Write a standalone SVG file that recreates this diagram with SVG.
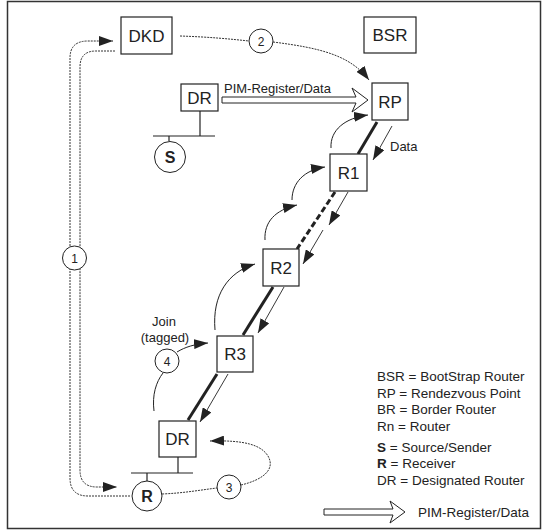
<svg xmlns="http://www.w3.org/2000/svg" width="543" height="530" viewBox="0 0 543 530">
<defs>
<style>
.box{fill:#fff;stroke:#222;stroke-width:1.2}
.lbl{font-family:"Liberation Sans",Arial,sans-serif;font-size:17px;fill:#222;text-anchor:middle}
.num{font-family:"Liberation Sans",Arial,sans-serif;font-size:12px;fill:#222;text-anchor:middle}
.txt{font-family:"Liberation Sans",Arial,sans-serif;font-size:13.5px;fill:#222}
.circ{fill:#fff;stroke:#222;stroke-width:1}
.dot{fill:none;stroke:#333;stroke-width:1;stroke-dasharray:2 1}
.thin{fill:none;stroke:#222;stroke-width:0.9}
.curve{fill:none;stroke:#222;stroke-width:1}
.thick{fill:none;stroke:#222;stroke-width:3}
.hollow{fill:#fff;stroke:#222;stroke-width:1}
.line{fill:none;stroke:#222;stroke-width:1.2}
</style>
<marker id="ah" viewBox="0 0 14 10" refX="14" refY="5" markerWidth="14" markerHeight="10" markerUnits="userSpaceOnUse" orient="auto">
<path d="M0,0 L14,5 L0,10 z" fill="#222"/>
</marker>
</defs>
<rect x="7.5" y="1.5" width="533" height="527" fill="#fff" stroke="#333" stroke-width="1.5"/>

<g id="connectors">
<!-- step 1 -->
<path class="dot" d="M130,496 L88,496 Q70,496 70,478 L70,58 Q70,41 88,41 L113,41" marker-end="url(#ah)"/>
<path class="dot" d="M115,51 L96,51 Q80,51 80,67 L80,470 Q80,487 97,487 L117,487" marker-end="url(#ah)"/>
<!-- step 2 -->
<path class="dot" d="M180,36 C210,37 230,39 249,41"/>
<path class="dot" d="M273,42 C320,48 350,55 369,80" marker-end="url(#ah)"/>
<!-- step 3 -->
<path class="dot" d="M162,494 C185,493 200,490 217,488"/>
<path class="dot" d="M241,485 C262,480 276,470 268,456 C261,445 245,440 210,441" marker-end="url(#ah)"/>
<!-- PIM register -->
<polygon class="hollow" points="222,97 356,97 352,88 368,100 352,112 356,103 222,103"/>
<!-- tree links -->
<line class="thick" x1="377" y1="122" x2="358" y2="154"/>
<line class="thick" x1="335" y1="192" x2="297" y2="249" stroke-dasharray="6 3"/>
<line class="thick" x1="273" y1="287" x2="243" y2="335"/>
<line class="thick" x1="217" y1="374" x2="188" y2="420"/>
<!-- data arrows -->
<line class="thin" x1="392" y1="126" x2="373" y2="160" marker-end="url(#ah)"/>
<line class="thin" x1="348" y1="192" x2="329" y2="225" marker-end="url(#ah)"/>
<line class="thin" x1="323" y1="230" x2="303" y2="264" marker-end="url(#ah)"/>
<line class="thin" x1="284" y1="287" x2="258" y2="333" marker-end="url(#ah)"/>
<line class="thin" x1="228" y1="374" x2="200" y2="422" marker-end="url(#ah)"/>
<!-- join curves -->
<path class="curve" d="M154,411 C152,395 156,382 163,373"/>
<path class="curve" d="M177,352 C185,347 195,344 208,343" marker-end="url(#ah)"/>
<path class="curve" d="M215,330 C212,295 228,272 255,264" marker-end="url(#ah)"/>
<path class="curve" d="M265,240 C264,222 275,210 297,205" marker-end="url(#ah)"/>
<path class="curve" d="M292,200 C292,183 304,170 325,167" marker-end="url(#ah)"/>
<path class="curve" d="M331,148 C330,130 345,118 368,115" marker-end="url(#ah)"/>
<!-- LAN buses -->
<line class="line" x1="200" y1="111" x2="200" y2="136"/>
<line class="line" x1="153" y1="136" x2="215" y2="136" stroke-width="1.6"/>
<line class="line" x1="169" y1="136" x2="169" y2="141"/>
<line class="line" x1="178" y1="457" x2="178" y2="473"/>
<line class="line" x1="131" y1="473" x2="193" y2="473" stroke-width="1.6"/>
<line class="line" x1="147" y1="473" x2="147" y2="481"/>
</g>

<g id="dkd"><rect class="box" x="121" y="17" width="51" height="37"/><text class="lbl" x="146.5" y="42">DKD</text></g>
<g id="bsr"><rect class="box" x="364" y="17" width="52" height="36"/><text class="lbl" x="390" y="41">BSR</text></g>
<g id="dr-top"><rect class="box" x="181" y="84" width="37" height="27"/><text class="lbl" x="199.5" y="104">DR</text></g>
<g id="rp"><rect class="box" x="372" y="83" width="36" height="37"/><text class="lbl" x="390" y="108">RP</text></g>
<g id="r1"><rect class="box" x="330" y="154" width="37" height="37"/><text class="lbl" x="348.5" y="179">R1</text></g>
<g id="r2"><rect class="box" x="263" y="249" width="36" height="37"/><text class="lbl" x="281" y="274">R2</text></g>
<g id="r3"><rect class="box" x="217" y="336" width="36" height="36"/><text class="lbl" x="235" y="360">R3</text></g>
<g id="dr-bottom"><rect class="box" x="159" y="421" width="37" height="36"/><text class="lbl" x="177.5" y="445">DR</text></g>
<g id="sender"><circle class="circ" cx="170" cy="157" r="15.5"/><text class="lbl" x="170" y="163" font-weight="bold" style="font-size:16px">S</text></g>
<g id="receiver"><circle class="circ" cx="147" cy="496" r="15"/><text class="lbl" x="147" y="502" font-weight="bold" style="font-size:16px">R</text></g>
<g id="step1"><circle class="circ" cx="74.5" cy="258" r="12"/><text class="num" x="74.5" y="262.5">1</text></g>
<g id="step2"><circle class="circ" cx="261" cy="41" r="12"/><text class="num" x="261" y="45.5">2</text></g>
<g id="step3"><circle class="circ" cx="229" cy="487" r="12"/><text class="num" x="229" y="491.5">3</text></g>
<g id="step4"><circle class="circ" cx="167" cy="361" r="12"/><text class="num" x="167" y="365.5">4</text></g>

<g id="labels">
<text class="txt" x="224" y="93" style="font-size:13px">PIM-Register/Data</text>
<text class="txt" x="390" y="151" style="font-size:13px">Data</text>
<text class="txt" x="164" y="326" text-anchor="middle" style="font-size:13px">Join</text>
<text class="txt" x="165" y="342" text-anchor="middle" style="font-size:13px">(tagged)</text>
</g>

<g id="legend">
<text class="txt" x="377" y="381">BSR = BootStrap Router</text>
<text class="txt" x="377" y="398">RP = Rendezvous Point</text>
<text class="txt" x="377" y="414">BR = Border Router</text>
<text class="txt" x="377" y="431">Rn = Router</text>
<text class="txt" x="377" y="452"><tspan font-weight="bold">S</tspan> = Source/Sender</text>
<text class="txt" x="377" y="468"><tspan font-weight="bold">R</tspan> = Receiver</text>
<text class="txt" x="377" y="485">DR = Designated Router</text>
<polygon class="hollow" points="324,509 393,509 390,501 405,512 390,523 393,515 324,515"/>
<text class="txt" x="418" y="517">PIM-Register/Data</text>
</g>
</svg>
